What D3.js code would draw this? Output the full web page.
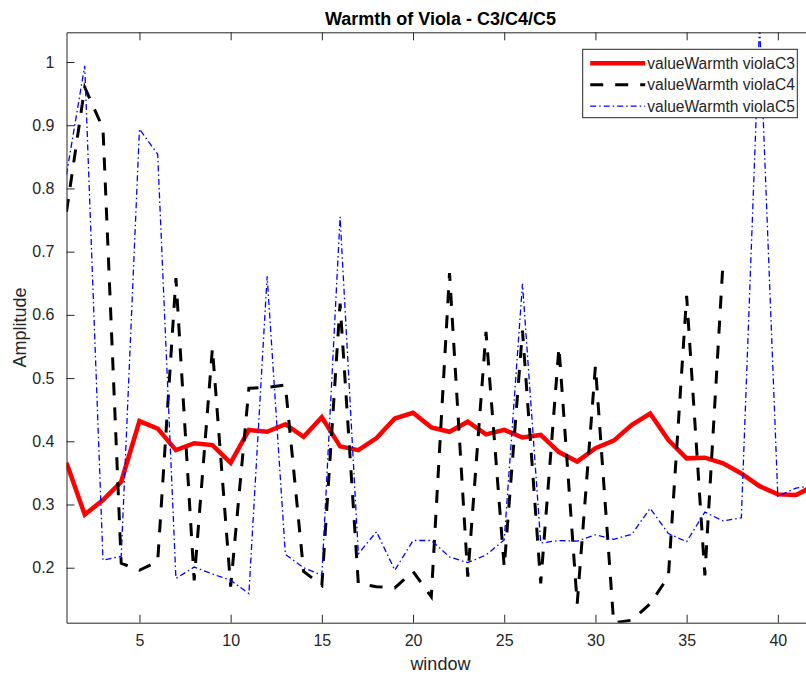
<!DOCTYPE html>
<html>
<head>
<meta charset="utf-8">
<script src="https://cdn.jsdelivr.net/npm/d3@7"></script>
<style>
  body { margin: 0; background: #fff; }
  svg { font-family: "Liberation Sans", Arial, sans-serif; }
</style>
</head>
<body>
<div id="chart"></div>
<script>
// values
var windowsC3 = d3.range(1, 43);
var windowsC4 = d3.range(1, 38);
var windowsC5 = d3.range(1, 43);

var warmthC3 = [0.366, 0.284, 0.307, 0.336, 0.432, 0.420, 0.386, 0.397, 0.394, 0.366,
  0.418, 0.415, 0.427, 0.407, 0.438, 0.392, 0.386, 0.405, 0.436, 0.445,
  0.422, 0.415, 0.431, 0.411, 0.418, 0.406, 0.410, 0.383, 0.368, 0.389,
  0.401, 0.426, 0.444, 0.402, 0.373, 0.374, 0.365, 0.349, 0.329, 0.316,
  0.315, 0.330];
var warmthC4 = [0.763, 0.960, 0.895, 0.207, 0.196, 0.210, 0.658, 0.180, 0.547, 0.170,
  0.484, 0.485, 0.489, 0.194, 0.172, 0.618, 0.175, 0.170, 0.168, 0.194,
  0.154, 0.666, 0.186, 0.573, 0.201, 0.575, 0.175, 0.549, 0.143, 0.519,
  0.113, 0.117, 0.143, 0.186, 0.630, 0.188, 0.685];
var warmthC5 = [0.822, 0.994, 0.212, 0.218, 0.894, 0.854, 0.183, 0.201, 0.190, 0.180,
  0.159, 0.661, 0.221, 0.200, 0.188, 0.755, 0.222, 0.257, 0.196, 0.243,
  0.243, 0.217, 0.208, 0.220, 0.244, 0.649, 0.239, 0.243, 0.242, 0.252,
  0.245, 0.253, 0.294, 0.254, 0.241, 0.288, 0.274, 0.279, 1.060, 0.313,
  0.326, 0.330];

var seriesNames = ["valueWarmth violaC3", "valueWarmth violaC4", "valueWarmth violaC5"];
var xTicks = [5, 10, 15, 20, 25, 30, 35, 40];
var yTicks = [0.2, 0.3, 0.4, 0.5, 0.6, 0.7, 0.8, 0.9, 1];

var W = 806, H = 677;
var plotLeft = 66.5, plotRight = 814.3, plotTop = 32.3, plotBottom = 622.7;

var svg = d3.select("#chart").append("svg")
  .attr("width", W).attr("height", H);

var x = d3.scaleLinear().domain([1, 42]).range([plotLeft, plotRight]);
var y = d3.scaleLinear().domain([0.113, 1.047]).range([plotBottom, plotTop]);

var axisColor = "#262626";

svg.append("clipPath").attr("id", "plotclip")
  .append("rect")
  .attr("x", plotLeft).attr("y", plotTop)
  .attr("width", plotRight - plotLeft).attr("height", plotBottom - plotTop);

var series = [
  { name: seriesNames[0], xs: windowsC3, ys: warmthC3, color: "#ff0000", width: 4.5, dash: null },
  { name: seriesNames[1], xs: windowsC4, ys: warmthC4, color: "#000000", width: 3, dash: "13,12" },
  { name: seriesNames[2], xs: windowsC5, ys: warmthC5, color: "#0000ff", width: 1.3, dash: "6,3,1.5,3" }
];

var line = d3.line()
  .x(d => x(d[0]))
  .y(d => y(d[1]));

var plot = svg.append("g").attr("clip-path", "url(#plotclip)");

// order: C3 under, then C4, C5 on top
series.forEach(s => {
  plot.append("path")
    .datum(d3.zip(s.xs, s.ys))
    .attr("d", line)
    .attr("fill", "none")
    .attr("stroke", s.color)
    .attr("stroke-width", s.width)
    .attr("stroke-dasharray", s.dash)
    .attr("stroke-linejoin", "miter");
});

// axes (box style, ticks inward)
function styleAxis(g) {
  g.selectAll(".domain").attr("stroke", axisColor);
  g.selectAll(".tick line").attr("stroke", axisColor);
  g.selectAll("text").attr("fill", axisColor).attr("font-size", 16)
    .attr("font-family", "\"Liberation Sans\", Arial, sans-serif");
}

svg.append("g")
  .attr("transform", "translate(0," + plotBottom + ")")
  .call(d3.axisBottom(x).tickValues(xTicks).tickSize(-8).tickSizeOuter(0).tickPadding(12))
  .call(styleAxis);

svg.append("g")
  .attr("transform", "translate(0," + plotTop + ")")
  .call(d3.axisTop(x).tickValues(xTicks).tickSize(-8).tickSizeOuter(0).tickFormat(""))
  .call(styleAxis);

svg.append("g")
  .attr("transform", "translate(" + plotLeft + ",0)")
  .call(d3.axisLeft(y).tickValues(yTicks).tickSize(-8).tickSizeOuter(0).tickPadding(12)
    .tickFormat(d3.format("~g")))
  .call(styleAxis);

svg.append("g")
  .attr("transform", "translate(" + plotRight + ",0)")
  .call(d3.axisRight(y).tickValues(yTicks).tickSize(-8).tickSizeOuter(0).tickFormat(""))
  .call(styleAxis);

// title and labels
svg.append("text")
  .attr("x", (plotLeft + plotRight) / 2).attr("y", 25)
  .attr("text-anchor", "middle")
  .attr("font-size", 18).attr("font-weight", "bold")
  .attr("fill", "#000")
  .text("Warmth of Viola - C3/C4/C5");

svg.append("text")
  .attr("x", (plotLeft + plotRight) / 2).attr("y", 670)
  .attr("text-anchor", "middle")
  .attr("font-size", 18)
  .attr("fill", axisColor)
  .text("window");

svg.append("text")
  .attr("transform", "translate(26," + ((plotTop + plotBottom) / 2) + ") rotate(-90)")
  .attr("text-anchor", "middle")
  .attr("font-size", 18)
  .attr("fill", axisColor)
  .text("Amplitude");

// legend
var legend = svg.append("g").attr("transform", "translate(582.7,49.3)");
legend.append("rect")
  .attr("width", 214.6).attr("height", 68.4)
  .attr("fill", "#fff")
  .attr("stroke", axisColor).attr("stroke-width", 1);

series.forEach((s, i) => {
  var cy = 14 + i * 21.4;
  legend.append("line")
    .attr("x1", 7.5).attr("x2", 62.5)
    .attr("y1", cy).attr("y2", cy)
    .attr("stroke", s.color)
    .attr("stroke-width", s.width)
    .attr("stroke-dasharray", s.dash);
  legend.append("text")
    .attr("x", 64.5).attr("y", cy)
    .attr("dy", "0.35em")
    .attr("font-size", 15.6)
    .attr("fill", axisColor)
    .text(s.name);
});
</script>
</body>
</html>
